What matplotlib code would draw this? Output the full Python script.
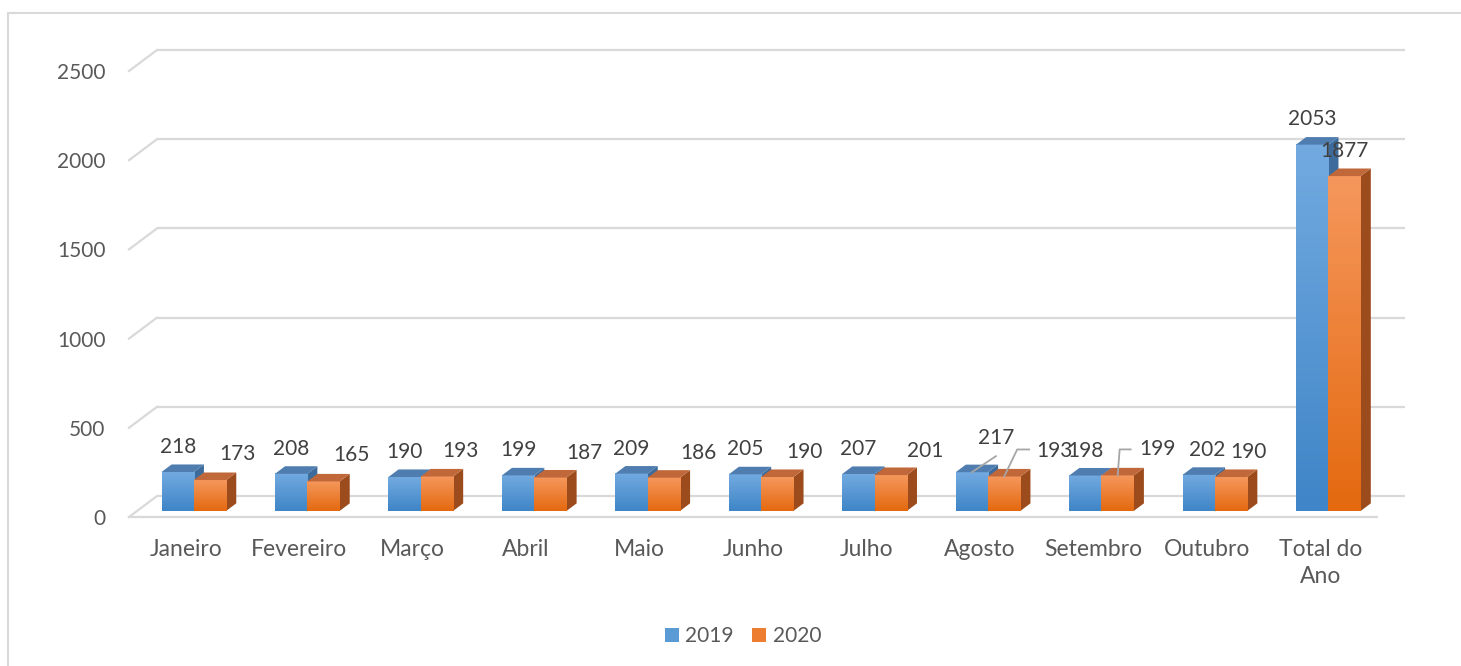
import numpy as np
import matplotlib
matplotlib.use("Agg")
import matplotlib.pyplot as plt
from matplotlib.patches import Polygon, Patch
from matplotlib.colors import LinearSegmentedColormap
from matplotlib.lines import Line2D

plt.rcParams["font.family"] = ["Lato", "DejaVu Sans"]

# ---- data ----
categories = ["Janeiro", "Fevereiro", "Março", "Abril", "Maio", "Junho",
              "Julho", "Agosto", "Setembro", "Outubro", "Total do\nAno"]
values_2019 = [218, 208, 190, 199, 209, 205, 207, 217, 198, 202, 2053]
values_2020 = [173, 165, 193, 187, 186, 190, 201, 193, 199, 190, 1877]
series_names = ["2019", "2020"]
y_ticks = [0, 500, 1000, 1500, 2000, 2500]

# label nudges (pixels) so they do not overlap, as in the original
label_dx = [[0, 0, 0, 0, 0, 0, 0, 24, 0, 8, 0],
            [27, 28, 24, 34, 35, 27, 34, 50, 40, 17, 0]]
label_dy = [[25, 25, 25, 25, 25, 25, 25, 34, 25, 25, 26],
            [26, 26, 25, 25, 25, 25, 24, 25, 26, 25, 25]]

# ---- style ----
W_PX, H_PX, DPI = 1461, 666, 100
TEXT = "#595959"
GRID = "#d9d9d9"
front_cmaps = [
    LinearSegmentedColormap.from_list("b", ["#3f85c7", "#72aae0"]),
    LinearSegmentedColormap.from_list("o", ["#e4690f", "#f5975c"]),
]
top_colors = ["#4f7db0", "#c0683a"]
side_colors = ["#3d6c9c", "#9c4b1c"]
legend_colors = ["#5b9bd5", "#ed7d31"]

DX = 28 / 113.45      # oblique depth offset in category units
DY = 21 / 0.1784      # oblique depth offset in value units
BAR_W = 0.285
D0, D1 = 0.29, 0.65   # bar depth range (0 = front, 1 = back wall)


def proj(x, y, d):
    return x + d * DX, y + d * DY


fig = plt.figure(figsize=(W_PX / DPI, H_PX / DPI), dpi=DPI)
ax = fig.add_axes([129 / W_PX, (H_PX - 517) / H_PX, 1276 / W_PX, 467 / H_PX])
n = len(categories)
x_lo, x_hi = -0.5, n - 0.5

# gridlines: back wall + left side wall, front floor edge
for v in y_ticks:
    ax.plot(*zip(proj(x_lo, v, 1), proj(x_hi, v, 1)), color=GRID, lw=1.6, zorder=1,
            clip_on=False, solid_capstyle="butt")
    ax.plot(*zip(proj(x_lo, v, 0), proj(x_lo, v, 1)), color=GRID, lw=1.6, zorder=1,
            clip_on=False)
ax.plot([x_lo, x_hi], [0, 0], color=GRID, lw=1.6, zorder=1, clip_on=False)

grad = np.linspace(0, 1, 100).reshape(-1, 1)
z = 2
anchors = []
for i in range(n):
    row = []
    for s, vals in enumerate([values_2019, values_2020]):
        v = vals[i]
        x0 = i - BAR_W + s * BAR_W
        x1 = x0 + BAR_W
        side = [proj(x1, 0, D0), proj(x1, v, D0), proj(x1, v, D1), proj(x1, 0, D1)]
        ax.add_patch(Polygon(side, closed=True, fc=side_colors[s], ec="none", zorder=z))
        fx0, fy0 = proj(x0, 0, D0)
        fx1, fy1 = proj(x1, v, D0)
        ax.imshow(grad, extent=(fx0, fx1, fy0, fy1), origin="lower", cmap=front_cmaps[s],
                  aspect="auto", interpolation="bilinear", zorder=z + 1)
        top = [proj(x0, v, D0), proj(x1, v, D0), proj(x1, v, D1), proj(x0, v, D1)]
        ax.add_patch(Polygon(top, closed=True, fc=top_colors[s], ec="none", zorder=z + 2))
        z += 3
        row.append(((fx0 + fx1) / 2, fy1))
    anchors.append(row)

ax.set_xlim(x_lo, x_hi + DX)
ax.set_ylim(0, y_ticks[-1] + DY)
for sp in ax.spines.values():
    sp.set_visible(False)
ax.set_xticks(range(n))
ax.set_xticklabels(categories, fontsize=16.5, color=TEXT, linespacing=1.35)
ax.set_yticks(y_ticks)
ax.set_yticklabels([str(t) for t in y_ticks], fontsize=15, color=TEXT)
ax.tick_params(axis="x", length=0, pad=16)
ax.tick_params(axis="y", length=0, pad=17)

# data labels
px2pt = 72 / DPI
for i in range(n):
    for s, vals in enumerate([values_2019, values_2020]):
        ax.annotate(str(vals[i]), xy=anchors[i][s], xytext=(label_dx[s][i] * px2pt, label_dy[s][i] * px2pt),
                    textcoords="offset points", ha="center", va="center",
                    fontsize=15, color="#404040", zorder=200, annotation_clip=False)

# leader lines for the displaced labels (pixel offsets from the bar top)
leaders = [(7, 0, [(0, 0), (24, 16)]),
           (7, 1, [(0, 0), (13, 27), (25, 27)]),
           (8, 1, [(0, 0), (2, 26), (13, 26)])]
fig.canvas.draw()
for i, s, pts in leaders:
    ax_, ay_ = ax.transData.transform(anchors[i][s])
    xs = [ax_ + p[0] for p in pts]
    ys = [ay_ + p[1] for p in pts]
    fig.add_artist(Line2D(xs, ys, transform=None, color="#a6a6a6", lw=1.3, zorder=150))

# legend
handles = [Patch(facecolor=c, edgecolor="none", label=l) for c, l in zip(legend_colors, series_names)]
fig.legend(handles=handles, loc="center", bbox_to_anchor=(743 / W_PX, 1 - 636 / H_PX),
           ncol=2, frameon=False, fontsize=15, labelcolor=TEXT, handlelength=0.67,
           handleheight=0.67, handletextpad=0.3, columnspacing=0.9)

# chart border (left and top visible)
bx, by = 8 / W_PX, 1 - 13 / H_PX
fig.add_artist(Line2D([bx, bx, 1.01], [-0.01, by, by], transform=fig.transFigure,
                      color=GRID, lw=1.5))

fig.savefig("out.png", dpi=DPI)
